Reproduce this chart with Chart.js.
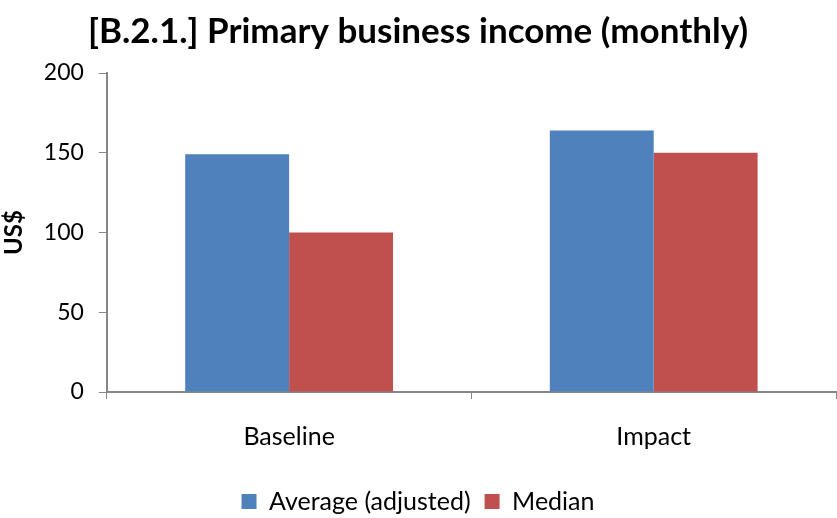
<!DOCTYPE html>
<html>
<head>
<meta charset="utf-8">
<script src="https://cdn.jsdelivr.net/npm/chart.js@4/dist/chart.umd.min.js"></script>
<style>
	html, body { margin: 0; padding: 0; background: #fff; }
	#wrap { width: 837px; height: 518px; }
</style>
</head>
<body>
<div id="wrap"><canvas id="myChart"></canvas></div>
<script>
const categories = ['Baseline', 'Impact'];
const averageAdjusted = [149, 164];
const median = [100, 150];
const yTicks = [0, 50, 100, 150, 200];

const fontFamily = 'Lato, "Open Sans", sans-serif';
const axisGray = '#868686';

const ctx = document.getElementById('myChart');
new Chart(ctx, {
	type: 'bar',
	data: {
		labels: categories,
		datasets: [{
			label: 'Average (adjusted)',
			data: averageAdjusted,
			backgroundColor: '#4F81BD',
			borderWidth: 0
		}, {
			label: 'Median',
			data: median,
			backgroundColor: '#C0504D',
			borderWidth: 0
		}]
	},
	options: {
		responsive: true,
		maintainAspectRatio: false,
		animation: false,
		categoryPercentage: 0.57,
		barPercentage: 1.0,
		layout: {
			// negative bottom pushes the legend row down to where the reference has it
			padding: { left: 0, right: 1, top: 0, bottom: -6 }
		},
		plugins: {
			title: {
				display: true,
				text: '[B.2.1.] Primary business income (monthly)',
				color: '#000',
				font: { family: fontFamily, size: 35, weight: 'bold' },
				padding: { top: 11, bottom: 20 }
			},
			legend: {
				position: 'bottom',
				labels: {
					color: '#000',
					font: { family: fontFamily, size: 25 },
					boxWidth: 15,
					boxHeight: 15,
					padding: 14
				}
			},
			tooltip: { enabled: false }
		},
		scales: {
			x: {
				grid: {
					offset: true,
					drawOnChartArea: false,
					color: axisGray,
					tickLength: 7
				},
				border: { color: axisGray, width: 2 },
				ticks: {
					color: '#000',
					font: { family: fontFamily, size: 25 },
					padding: 23
				}
			},
			y: {
				min: 0,
				max: 200,
				afterBuildTicks: (axis) => {
					axis.ticks = yTicks.map(v => ({ value: v }));
				},
				grid: {
					drawOnChartArea: false,
					color: axisGray,
					tickLength: 8
				},
				border: { color: axisGray, width: 2 },
				ticks: {
					color: '#000',
					font: { family: fontFamily, size: 23 },
					padding: 15
				},
				title: {
					display: true,
					text: 'US$',
					color: '#000',
					font: { family: fontFamily, size: 24, weight: 'bold' },
					padding: { top: 0, bottom: 0 }
				}
			}
		}
	}
});
</script>
</body>
</html>
